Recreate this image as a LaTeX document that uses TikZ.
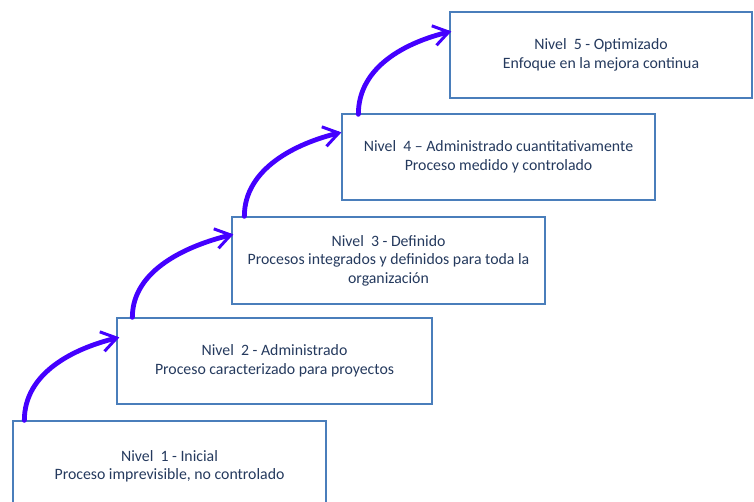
\documentclass[tikz,border=0pt]{standalone}
\usepackage{fontspec}
\setmainfont{Carlito}
\usetikzlibrary{arrows.meta,calc,shadows}
\definecolor{boxline}{HTML}{4A7EBB}
\definecolor{txt}{HTML}{253A5E}
\definecolor{arr}{HTML}{4400FF}
\begin{document}
\begin{tikzpicture}[x=1pt,y=-1pt,
  lvl/.style={draw=boxline, line width=1.3pt, fill=white, text=txt, align=center,
    font=\fontsize{15.8}{18.5}\selectfont, inner sep=0pt,
    drop shadow={shadow xshift=1.2pt,shadow yshift=-1.2pt,opacity=0.3,fill=gray}},
  uparrow/.style={draw=arr, line width=4.8pt, line cap=round,
    -{Straight Barb[length=15pt,width=20pt,line width=3pt]}}
]
\clip (0,0) rectangle (754,502);
\fill[white] (0,0) rectangle (754,502);
\node[lvl, minimum width=313pt, minimum height=91pt] (n1) at (169.5,466.5)
  {Nivel~ 1 - Inicial\\Proceso imprevisible, no controlado};
\node[lvl, minimum width=315pt, minimum height=86pt] (n2) at (274.5,361)
  {Nivel~ 2 - Administrado\\Proceso caracterizado para proyectos};
\node[lvl, minimum width=313pt, minimum height=87pt] (n3) at (388.5,260.5)
  {Nivel~ 3 - Definido\\Procesos integrados y definidos para toda la\\organización};
\node[lvl, minimum width=313pt, minimum height=86pt] (n4) at (498.5,157)
  {Nivel~ 4 – Administrado cuantitativamente\\Proceso medido y controlado};
\node[lvl, minimum width=302pt, minimum height=86pt] (n5) at (601,55)
  {Nivel~ 5 - Optimizado\\Enfoque en la mejora continua};
\draw[uparrow] ($(n1.north west)+(12,0)$) .. controls +(0,-48) and +(-45,11) .. ($(n2.north west)+(3,20)$);
\draw[uparrow] ($(n2.north west)+(16,0)$) .. controls +(0,-48) and +(-45,11) .. ($(n3.north west)+(2,18)$);
\draw[uparrow] ($(n3.north west)+(13,0)$) .. controls +(0,-48) and +(-45,11) .. ($(n4.north west)+(0,19)$);
\draw[uparrow] ($(n4.north west)+(17,1)$) .. controls +(0,-48) and +(-45,11) .. ($(n5.north west)+(2,20)$);
\end{tikzpicture}
\end{document}
